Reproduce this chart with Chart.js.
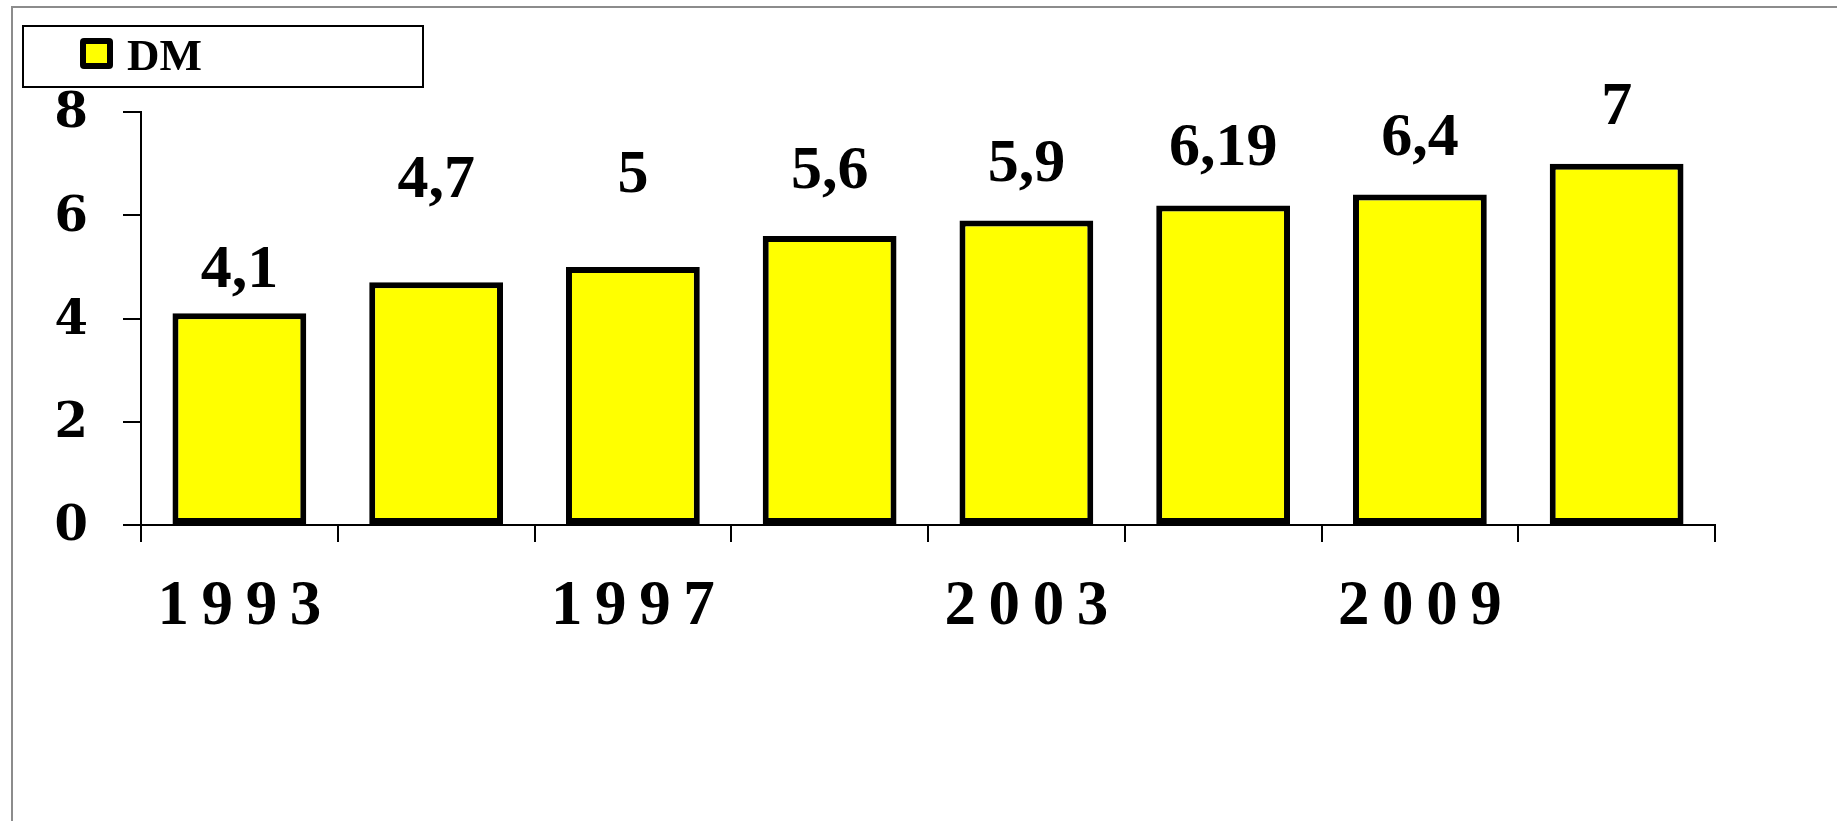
<!DOCTYPE html>
<html lang="es">
<head>
<meta charset="UTF-8">
<title>DM</title>
<script src="https://cdn.jsdelivr.net/npm/chart.js"></script>
<style>
  html, body { margin: 0; padding: 0; background: #fff; overflow: hidden; }
  /* Marco gris de la diapositiva (solo se ven los bordes izquierdo y superior) */
  #marco { position: absolute; left: 11px; top: 6px; width: 2000px; height: 1000px;
           border-left: 2px solid #8c8c8c; border-top: 2px solid #8c8c8c; }
  #contenedor { position: absolute; left: 0; top: 0; width: 1837px; height: 821px; }
</style>
</head>
<body>
<div id="marco"></div>
<div id="contenedor"><canvas id="graficoDM"></canvas></div>
<script>
// Categorías (solo se rotula una de cada dos en el original)
const anios = ['1993', '', '1997', '', '2003', '', '2009', ''];
// Valores de la serie DM
const valoresDM = [4.1, 4.7, 5, 5.6, 5.9, 6.19, 6.4, 7];
// Marcas del eje Y
const ticksY = [0, 2, 4, 6, 8];
// Separación (px) entre la parte de arriba de cada barra y su etiqueta
const alturaEtiquetas = [26, 85, 75, 48, 39, 40, 40, 40];

// Plugin para escribir el valor encima de cada barra (con coma decimal)
const etiquetasValores = {
    id: 'etiquetasValores',
    afterDatasetsDraw(chart) {
        const ctx = chart.ctx;
        const meta = chart.getDatasetMeta(0);
        ctx.save();
        ctx.font = 'bold 62px "Liberation Serif"';
        ctx.fillStyle = '#000';
        ctx.textAlign = 'center';
        ctx.textBaseline = 'alphabetic';
        meta.data.forEach((barra, i) => {
            const texto = String(valoresDM[i]).replace('.', ',');
            ctx.fillText(texto, barra.x, barra.y - alturaEtiquetas[i]);
        });
        ctx.restore();
    }
};

// Plugin para la leyenda con recuadro (arriba a la izquierda)
const leyendaCaja = {
    id: 'leyendaCaja',
    afterDraw(chart) {
        const ctx = chart.ctx;
        const ds = chart.data.datasets[0];
        ctx.save();
        ctx.strokeStyle = '#000';
        ctx.lineWidth = 2;
        ctx.strokeRect(23, 26, 400, 61);

        // Muestra de color
        ctx.fillStyle = '#000';
        ctx.beginPath();
        ctx.roundRect(80, 38, 33, 31, 4);
        ctx.fill();
        ctx.fillStyle = ds.backgroundColor;
        ctx.fillRect(86, 44, 21, 19);

        // Texto
        ctx.fillStyle = '#000';
        ctx.font = 'bold 45px "Liberation Serif"';
        ctx.textAlign = 'left';
        ctx.textBaseline = 'alphabetic';
        ctx.fillText(ds.label, 127, 70);
        ctx.restore();
    }
};

const ctx = document.getElementById('graficoDM').getContext('2d');

const grafico = new Chart(ctx, {
    type: 'bar',
    data: {
        labels: anios,
        datasets: [{
            label: 'DM',
            data: valoresDM,
            backgroundColor: '#ffff00',
            borderColor: '#000',
            borderWidth: 6,
            borderSkipped: false,
            barPercentage: 0.68,
            categoryPercentage: 1
        }]
    },
    options: {
        responsive: true,
        maintainAspectRatio: false,
        animation: false,
        layout: { padding: { left: 0, top: 112, right: 122, bottom: 196 } },
        plugins: {
            legend: { display: false },
            tooltip: { enabled: false }
        },
        scales: {
            x: {
                grid: { offset: true, drawOnChartArea: false, drawTicks: true, tickLength: 17, color: '#000', lineWidth: 2 },
                border: { display: true, color: '#000', width: 2 },
                ticks: {
                    autoSkip: false,
                    maxRotation: 0,
                    padding: 28,
                    color: '#000',
                    font: { family: 'Liberation Serif', weight: 'bold', size: 63 },
                    // Letras separadas como en el original
                    callback: function (valor, i) {
                        return anios[i].split('').join('\u2009');
                    }
                },
                afterFit: function (escala) { escala.height = 100; }
            },
            y: {
                min: ticksY[0],
                max: ticksY[ticksY.length - 1],
                afterBuildTicks: function (escala) {
                    escala.ticks = ticksY.map(v => ({ value: v }));
                },
                grid: { drawOnChartArea: false, drawTicks: true, tickLength: 18, color: '#000', lineWidth: 2 },
                border: { display: true, color: '#000', width: 2 },
                ticks: {
                    padding: 35,
                    labelOffset: 3,
                    color: '#000',
                    font: { family: 'DejaVu Serif', weight: 'bold', size: 48 }
                },
                afterFit: function (escala) { escala.width = 141; }
            }
        }
    },
    plugins: [etiquetasValores, leyendaCaja]
});
</script>
</body>
</html>
